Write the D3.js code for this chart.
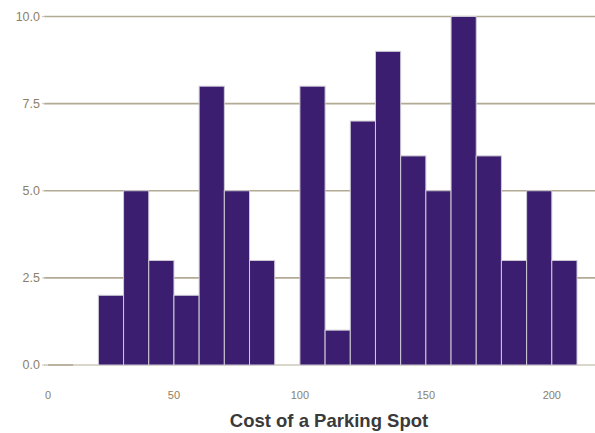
<!DOCTYPE html>
<html><head><meta charset="utf-8">
<script src="https://cdn.jsdelivr.net/npm/d3@7"></script>
<style>body{margin:0;background:#fff}svg{display:block}</style>
</head><body>
<svg id="c" width="595" height="433"></svg>
<script>
const binStarts = [0,10,20,30,40,50,60,70,80,90,100,110,120,130,140,150,160,170,180,190,200];
const counts    = [0,0,2,5,3,2,8,5,3,0,8,1,7,9,6,5,10,6,3,5,3];
const binWidth = 10;
const yTicks = [0,2.5,5,7.5,10];
const xTicks = [0,50,100,150,200];
const xTitle = "Cost of a Parking Spot";

const svg = d3.select("#c");
const x = d3.scaleLinear().domain([0,210]).range([48,577]);
const y = d3.scaleLinear().domain([0,10]).range([365,16.5]);
const gridCol = "#b3aa94", txtCol = "#8c8068";

// gridlines
svg.append("g").selectAll("line").data(yTicks).join("line")
  .attr("x1",44).attr("x2",595)
  .attr("y1",d=>y(d)).attr("y2",d=>y(d))
  .attr("stroke",d=>d===0?"#cdc8bb":gridCol).attr("stroke-width",1.6);
// small ticks
svg.append("g").selectAll("line").data(yTicks).join("line")
  .attr("x1",42).attr("x2",45)
  .attr("y1",d=>y(d)).attr("y2",d=>y(d))
  .attr("stroke","#c9c4ba").attr("stroke-width",1);

// first empty bin edge
svg.append("line").attr("x1",x(binStarts[0])).attr("x2",x(binStarts[0]+binWidth))
  .attr("y1",y(counts[0])).attr("y2",y(counts[0]))
  .attr("stroke",gridCol).attr("stroke-width",1.6);

// bars
svg.append("g").selectAll("rect").data(binStarts.map((b,i)=>({b,c:counts[i]})).filter(d=>d.b>=20)).join("rect")
  .attr("x",d=>x(d.b)).attr("width",d=>x(d.b+binWidth)-x(d.b))
  .attr("y",d=>y(d.c)).attr("height",d=>y(0)-y(d.c))
  .attr("fill","#3b1e6f").attr("stroke","#cfcbd6").attr("stroke-width",1);

// y labels
svg.append("g").selectAll("text").data(yTicks).join("text")
  .attr("x",40).attr("y",d=>y(d)).attr("dy","0.35em")
  .attr("text-anchor","end").attr("fill",txtCol)
  .attr("font-family","Liberation Sans, Arial, sans-serif").attr("font-size",12.5)
  .text(d=>d3.format(".1f")(d));

// x labels
svg.append("g").selectAll("text").data(xTicks).join("text")
  .attr("x",d=>x(d)).attr("y",399)
  .attr("text-anchor","middle").attr("fill",txtCol)
  .attr("font-family","Liberation Sans, Arial, sans-serif").attr("font-size",11)
  .text(d=>d);

svg.append("text").attr("x",329).attr("y",427).attr("text-anchor","middle")
  .attr("fill","#3a3a3a").attr("font-weight","bold")
  .attr("font-family","Liberation Sans, Arial, sans-serif").attr("font-size",18.5)
  .text(xTitle);
</script>
</body></html>
